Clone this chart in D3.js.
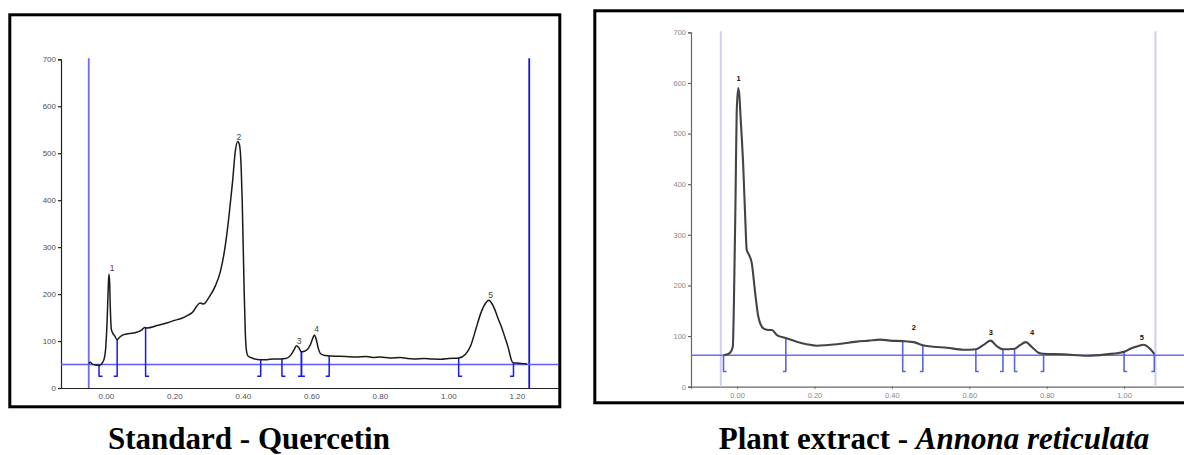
<!DOCTYPE html>
<html>
<head>
<meta charset="utf-8">
<script src="https://cdn.jsdelivr.net/npm/d3@7"></script>
<style>
body { margin:0; background:#fff; }
svg { display:block; }
</style>
</head>
<body>
<svg id="chart" width="1184" height="455"></svg>
<script>
// ---- standard (quercetin) chromatogram ----
var stdTime = [-0.05,-0.045,-0.04,-0.03,-0.02,-0.012,-0.005,0.0,0.004,0.007,0.009,0.011,0.013,0.016,0.02,0.025,0.033,0.04,0.05,0.06,0.08,0.095,0.105,0.113,0.12,0.15,0.18,0.2,0.22,0.24,0.255,0.265,0.275,0.285,0.3,0.32,0.335,0.35,0.36,0.37,0.378,0.385,0.39,0.395,0.398,0.401,0.404,0.407,0.41,0.415,0.43,0.45,0.47,0.49,0.51,0.525,0.54,0.55,0.556,0.563,0.571,0.585,0.597,0.604,0.609,0.614,0.62,0.627,0.64,0.66,0.7,0.73,0.76,0.78,0.8,0.83,0.86,0.88,0.9,0.93,0.95,0.98,1.0,1.03,1.05,1.065,1.08,1.095,1.11,1.118,1.125,1.135,1.145,1.155,1.165,1.175,1.183,1.188,1.2,1.23];
var stdSignal = [52,55,51,49,48,52,62,90,150,215,242,225,170,125,117,112,103,108,113,115,117,120,124,129,128,133,139,144,148,155,163,174,181,179,192,218,250,310,370,440,505,525,518,470,400,300,200,120,82,68,63,60,60,62,62,63,70,82,90,86,77,80,92,106,113,104,85,73,69,68,67,66,67,65,66,64,65,63,62,63,62,61,63,64,72,90,125,160,182,187,182,168,148,130,108,85,62,54,53,51];
var stdPeakNames = ["1","2","3","4","5"];
var stdLabelTime = [0.018,0.388,0.564,0.615,1.123];
var stdLabelValue = [255,535,101,125,198];
var stdStarts = [-0.02,0.116,0.514,0.571,1.03];
var stdEnds = [0.033,0.452,0.571,0.652,1.19];
var stdBaseline = 50;
var stdCursors = [-0.05,1.236];
var stdYTicks = [0,100,200,300,400,500,600,700];
var stdXTicks = [0,0.2,0.4,0.6,0.8,1.0,1.2];

// ---- plant extract (Annona reticulata) chromatogram ----
var extTime = [-0.035,-0.025,-0.018,-0.011,-0.008,-0.004,-0.001,0.003,0.006,0.009,0.016,0.021,0.025,0.03,0.038,0.047,0.055,0.068,0.08,0.09,0.103,0.126,0.154,0.18,0.206,0.23,0.258,0.309,0.34,0.37,0.395,0.428,0.456,0.48,0.507,0.542,0.585,0.617,0.636,0.655,0.671,0.687,0.717,0.731,0.746,0.761,0.779,0.792,0.843,0.904,0.955,1.0,1.016,1.035,1.05,1.067,1.078];
var extSignal = [62,64,67,79,171,369,540,590,575,534,435,336,270,262,244,184,138,115,112,112,102,96,89,84,81,82,84,89,91,93,91,90,88,82,79,77,73,74,82,91,80,74,75,82,88,79,67,65,64,61,64,69,75,80,83,75,65];
var extPeakNames = ["1","2","3","4","5"];
var extLabelTime = [0.004,0.457,0.656,0.762,1.046];
var extLabelValue = [608,116,107,107,98];
var extStarts = [-0.035,0.428,0.617,0.717,1.0];
var extEnds = [0.126,0.48,0.687,0.792,1.078];
var extBaseline = 62;
var extCursors = [-0.042,1.081];
var extYTicks = [0,100,200,300,400,500,600,700];
var extXTicks = [0,0.2,0.4,0.6,0.8,1.0];

var svg = d3.select("#chart");

function interp(times, vals, t){
    for (var i = 0; i < times.length - 1; i++){
        if (t >= times[i] && t <= times[i+1]){
            var f = (t - times[i]) / (times[i+1] - times[i]);
            return vals[i] + f * (vals[i+1] - vals[i]);
        }
    }
    return t < times[0] ? vals[0] : vals[vals.length-1];
}

function drawPanel(o){
    var g = svg.append("g");
    // frame
    g.append("rect").attr("x", o.frame[0]).attr("y", o.frame[1])
        .attr("width", o.frame[2]).attr("height", o.frame[3])
        .attr("fill", "none").attr("stroke", "#000").attr("stroke-width", 3);

    var x = d3.scaleLinear().domain(o.xDomain).range(o.xRange);
    var y = d3.scaleLinear().domain([0, 700]).range(o.yRange);

    // axes
    var ya = g.append("g").attr("transform", "translate(" + o.xRange[0] + ",0)")
        .call(d3.axisLeft(y).tickValues(o.yTicks).tickSize(3).tickPadding(2)
            .tickFormat(d3.format("d")));
    var xa = g.append("g").attr("transform", "translate(0," + o.yRange[0] + ")")
        .call(d3.axisBottom(x).tickValues(o.xTicks).tickSize(o.xTickSize).tickPadding(o.xPad)
            .tickFormat(d3.format(".2f")));
    [ya, xa].forEach(function(a){
        a.selectAll("path,line").attr("stroke", o.axisColor).attr("stroke-width", 1.2);
        a.selectAll("text").attr("fill", o.tickColor).style("font-family", "Liberation Sans, Arial, sans-serif")
            .style("font-size", o.tickFont + "px");
    });

    // cursors (vertical lines)
    g.selectAll(".cursor").data(o.cursors).enter().append("line")
        .attr("x1", function(d){ return x(d); }).attr("x2", function(d){ return x(d); })
        .attr("y1", y(700) - 1).attr("y2", o.yRange[0])
        .attr("stroke", function(d, i){ return o.cursorColor[i]; })
        .attr("stroke-width", o.cursorWidth);

    // baseline
    g.append("line").attr("x1", o.xRange[0]).attr("x2", o.xRange[1])
        .attr("y1", y(o.baseline)).attr("y2", y(o.baseline))
        .attr("stroke", o.baseColor).attr("stroke-width", 1.6);

    // integration markers
    var marks = o.starts.map(function(t){ return {t:t, dir:1}; })
        .concat(o.ends.map(function(t){ return {t:t, dir:-1}; }));
    g.selectAll(".mark").data(marks).enter().append("path")
        .attr("d", function(d){
            var px = x(d.t), top = y(Math.max(o.baseline, interp(o.time, o.signal, d.t))), bot = y(o.markBottom);
            return "M" + px + "," + top + "L" + px + "," + bot + "L" + (px + d.dir * o.foot) + "," + bot;
        })
        .attr("fill", "none").attr("stroke", o.markColor).attr("stroke-width", o.markWidth)
        .attr("stroke-linejoin", "round");

    // trace
    var pts = o.time.map(function(t, i){ return [t, o.signal[i]]; });
    g.append("path").datum(pts)
        .attr("d", d3.line().x(function(d){ return x(d[0]); }).y(function(d){ return y(d[1]); })
            .curve(d3.curveMonotoneX))
        .attr("fill", "none").attr("stroke", o.lineColor).attr("stroke-width", o.lineWidth)
        .attr("stroke-linejoin", "round");

    // peak labels
    g.selectAll(".plab").data(o.names).enter().append("text")
        .attr("x", function(d, i){ return x(o.labelTime[i]); })
        .attr("y", function(d, i){ return y(o.labelValue[i]); })
        .attr("text-anchor", "middle").attr("dominant-baseline", "central")
        .attr("fill", function(d, i){ return o.labelColor[i]; })
        .style("font-family", "Liberation Sans, Arial, sans-serif")
        .style("font-size", o.labelFont + "px").style("font-weight", o.labelWeight)
        .text(function(d){ return d; });

    return g;
}

drawPanel({
    frame:[9.8, 14.8, 550, 392], xDomain:[-0.131, 1.32], xRange:[61, 558], yRange:[388, 59.3],
    yTicks:stdYTicks, xTicks:stdXTicks, xTickSize:0, xPad:5, axisColor:"#222", tickColor:"#505058",
    tickFont:8, cursors:stdCursors, cursorColor:["#6a6aff","#1414e6"], cursorWidth:1.8,
    baseline:stdBaseline, baseColor:"#5c5cff", starts:stdStarts, ends:stdEnds, markBottom:25,
    foot:3.5, markColor:"#1a1aee", markWidth:1.5, time:stdTime, signal:stdSignal,
    lineColor:"#1a1a1a", lineWidth:1.5, names:stdPeakNames, labelTime:stdLabelTime,
    labelValue:stdLabelValue, labelColor:["#6a2c5c","#444","#444","#444","#444"], labelFont:8.5, labelWeight:"normal"
});

drawPanel({
    frame:[594.8, 10.8, 600, 392], xDomain:[-0.119, 1.2], xRange:[691, 1201.5], yRange:[386.7, 32.3],
    yTicks:extYTicks, xTicks:extXTicks, xTickSize:2, xPad:4, axisColor:"#666", tickColor:"#888",
    tickFont:7.5, cursors:extCursors, cursorColor:["#cfcff5","#cfcff5"], cursorWidth:2,
    baseline:extBaseline, baseColor:"#6c6cf0", starts:extStarts, ends:extEnds, markBottom:30,
    foot:3, markColor:"#5a64e6", markWidth:1.6, time:extTime, signal:extSignal,
    lineColor:"#444", lineWidth:2.1, names:extPeakNames, labelTime:extLabelTime,
    labelValue:extLabelValue, labelColor:["#111","#111","#111","#111","#111"], labelFont:7.5, labelWeight:"bold"
});

// titles
var serif = "Liberation Serif, Times New Roman, serif";
svg.append("text").attr("x", 249).attr("y", 449).attr("text-anchor", "middle")
    .style("font-family", serif).style("font-weight", "bold").style("font-size", "31px")
    .text("Standard - Quercetin");
var t2 = svg.append("text").attr("x", 934).attr("y", 449).attr("text-anchor", "middle")
    .style("font-family", serif).style("font-weight", "bold").style("font-size", "31px");
t2.append("tspan").text("Plant extract - ");
t2.append("tspan").style("font-style", "italic").text("Annona reticulata");
</script>
</body>
</html>
